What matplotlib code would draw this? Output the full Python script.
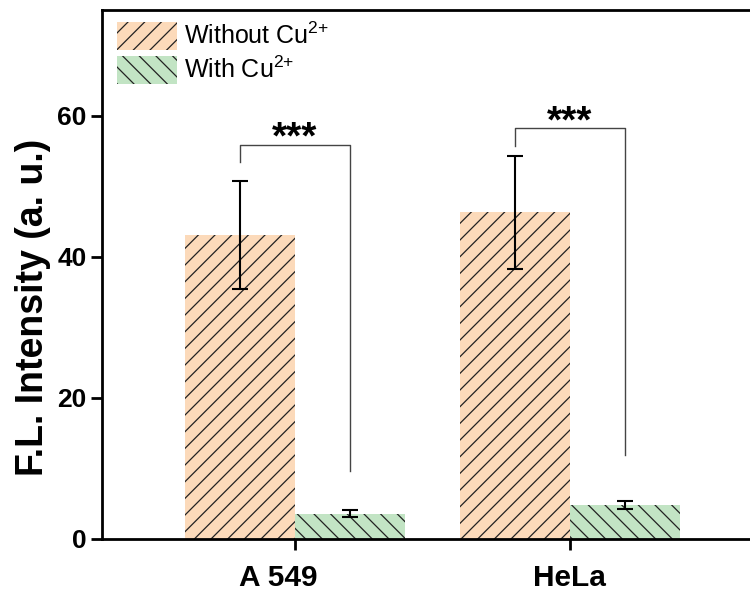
import matplotlib
matplotlib.use("Agg")
import matplotlib.pyplot as plt
from matplotlib.transforms import ScaledTranslation
import numpy as np

plt.rcParams['font.family'] = ['Liberation Sans', 'DejaVu Sans']
plt.rcParams['hatch.linewidth'] = 0.9
plt.rcParams['mathtext.default'] = 'regular'

# data
cells = ["A 549", "HeLa"]
without_cu = [43.1, 46.3]
without_err = [7.6, 8.0]
with_cu = [3.6, 4.85]
with_err = [0.5, 0.55]
labels = ["Without Cu$^{2{+}}$", "With Cu$^{2{+}}$"]
# significance brackets: (left drop end, bracket height, right drop end)
sig_left = [53.5, 55.7]
sig_top = [55.9, 58.2]
sig_right = [9.7, 11.9]
sig_text = ["***", "***"]

c_orange = "#FCDABA"
c_green = "#C2E4C4"

fig = plt.figure(figsize=(7.5, 5.96), dpi=100)
ax = fig.add_axes([102 / 750, 57 / 596, (762 - 102) / 750, 529 / 596])

x = np.arange(1, len(cells) + 1)
w = 0.4

ax.bar(x - w / 2, without_cu, w, color=c_orange, edgecolor="#222222",
       linewidth=0, hatch="//", label=labels[0])
ax.bar(x + w / 2, with_cu, w, color=c_green, edgecolor="#222222",
       linewidth=0, hatch="\\\\", label=labels[1])

ax.errorbar(x - w / 2, without_cu, yerr=without_err, fmt="none", ecolor="black",
            elinewidth=1.5, capsize=6, capthick=1.5)
ax.errorbar(x + w / 2, with_cu, yerr=with_err, fmt="none", ecolor="black",
            elinewidth=1.5, capsize=6, capthick=1.5)

for i in range(len(cells)):
    xl = x[i] - w / 2
    xr = x[i] + w / 2
    ax.plot([xl, xl, xr, xr], [sig_left[i], sig_top[i], sig_top[i], sig_right[i]],
            color="#444444", linewidth=1.0)
    ax.text(x[i], sig_top[i] - 1.7, sig_text[i], ha="center", va="bottom",
            fontsize=28, fontweight="bold")

ax.set_xlim(0.3, 2.7)
ax.set_ylim(0, 75)
ax.set_yticks([0, 20, 40, 60])
ax.set_xticks(x)
ax.set_xticklabels(cells)

for side in ["left", "bottom", "top"]:
    ax.spines[side].set_linewidth(2)
ax.spines["right"].set_visible(False)

ax.tick_params(axis="both", direction="out", length=8, width=2)
ax.tick_params(axis="y", labelsize=19, pad=3)
ax.tick_params(axis="x", labelsize=21.5, pad=10)
for t in ax.get_xticklabels() + ax.get_yticklabels():
    t.set_fontweight("bold")

# the first x label sits a little left of its tick in the original
lab0 = ax.get_xticklabels()[0]
lab0.set_transform(lab0.get_transform() + ScaledTranslation(-0.16, 0, fig.dpi_scale_trans))

ax.set_ylabel("F.L. Intensity (a. u.)", fontsize=27, fontweight="bold")
ax.yaxis.set_label_coords(-0.077, 0.437)

ax.legend(loc="upper left", bbox_to_anchor=(117 / 750, 1 - 22 / 596),
          bbox_transform=fig.transFigure, frameon=False, fontsize=18,
          borderpad=0, borderaxespad=0, handlelength=2.4, handleheight=1.35,
          handletextpad=0.3, labelspacing=0.22)

fig.savefig("out.png", dpi=100)
